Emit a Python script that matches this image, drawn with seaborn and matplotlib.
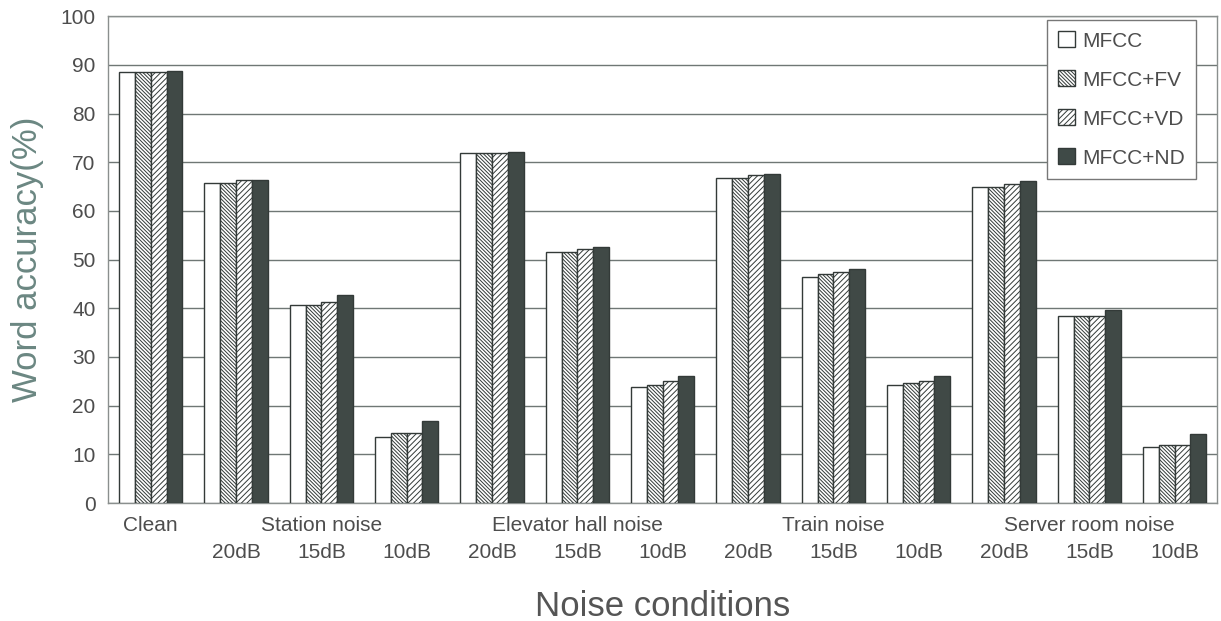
import pandas as pd
import seaborn as sns
import matplotlib.pyplot as plt
import matplotlib.transforms as mtransforms
from matplotlib.patches import Patch

# --- data ---
conditions = ["Clean",
              "Station 20dB", "Station 15dB", "Station 10dB",
              "Elevator 20dB", "Elevator 15dB", "Elevator 10dB",
              "Train 20dB", "Train 15dB", "Train 10dB",
              "Server 20dB", "Server 15dB", "Server 10dB"]
db_labels = ["", "20dB", "15dB", "10dB", "20dB", "15dB", "10dB",
             "20dB", "15dB", "10dB", "20dB", "15dB", "10dB"]
group_names = ["Clean", "Station noise", "Elevator hall noise",
               "Train noise", "Server room noise"]
group_pos = [0, 2, 5, 8, 11]
features = ["MFCC", "MFCC+FV", "MFCC+VD", "MFCC+ND"]

mfcc    = [88.6, 65.8, 40.7, 13.6, 71.9, 51.6, 23.8, 66.8, 46.5, 24.2, 65.0, 38.5, 11.6]
mfcc_fv = [88.6, 65.8, 40.7, 14.4, 71.9, 51.5, 24.2, 66.8, 47.0, 24.6, 65.0, 38.5, 12.0]
mfcc_vd = [88.6, 66.3, 41.3, 14.4, 71.9, 52.1, 25.1, 67.3, 47.4, 25.1, 65.5, 38.5, 12.0]
mfcc_nd = [88.8, 66.3, 42.8, 16.8, 72.0, 52.6, 26.1, 67.5, 48.0, 26.1, 66.1, 39.6, 14.1]

rows = []
for name, vals in zip(features, [mfcc, mfcc_fv, mfcc_vd, mfcc_nd]):
    for cond, v in zip(conditions, vals):
        rows.append({"condition": cond, "feature": name, "accuracy": v})
df = pd.DataFrame(rows)

sns.set_style("white")
plt.rcParams['font.family'] = ['Liberation Sans', 'DejaVu Sans']
plt.rcParams['hatch.linewidth'] = 0.7

text_col = "#4d4d4d"
edge_col = "#333a38"
fills = ["white", "white", "white", "#3f4a47"]
hatches = ["", "\\" * 9, "/" * 6, ""]

fig, ax = plt.subplots(figsize=(12.21, 6.21), dpi=100)
fig.subplots_adjust(left=0.0885, right=0.997, top=0.974, bottom=0.19)

sns.barplot(data=df, x="condition", y="accuracy", hue="feature",
            order=conditions, hue_order=features, width=0.74,
            palette=fills, edgecolor=edge_col, linewidth=1.0,
            legend=False, ax=ax, zorder=3)

for container, h in zip(ax.containers, hatches):
    for bar in container:
        bar.set_hatch(h)
        bar.set_edgecolor(edge_col)

ax.set_ylim(0, 100)
ax.set_xlim(-0.5, len(conditions) - 0.5)
ax.set_yticks(range(0, 101, 10))
ax.yaxis.grid(True, color="#6f7775", linewidth=1.0, zorder=0)
ax.set_axisbelow(True)
ax.set_xticks(range(len(conditions)))
ax.set_xticklabels(db_labels, fontsize=15, color=text_col)
ax.tick_params(axis="x", length=0, pad=29)
ax.tick_params(axis="y", length=0, pad=9, labelsize=15, labelcolor=text_col)
for s in ax.spines.values():
    s.set_color("#8a8f8e")
    s.set_linewidth(1.0)

# group names on the first row under the axis
trans = mtransforms.blended_transform_factory(ax.transData, ax.transAxes)
for name, pos in zip(group_names, group_pos):
    ax.text(pos, -0.026, name, transform=trans, ha="center", va="top",
            fontsize=15, color=text_col)

ax.set_ylabel("Word accuracy(%)", fontsize=25, color="#6b8782", labelpad=12)
ax.set_xlabel("Noise conditions", fontsize=25, color="#555555", labelpad=20)

handles = [Patch(facecolor=f, edgecolor=edge_col, hatch=h, label=n)
           for f, h, n in zip(fills, hatches, features)]
leg = ax.legend(handles=handles, loc="upper right", bbox_to_anchor=(0.981, 0.992),
                fontsize=15, handlelength=0.8, handleheight=0.8, handletextpad=0.35,
                labelspacing=0.95, borderpad=0.55, borderaxespad=0,
                fancybox=False, framealpha=1, edgecolor="#777777")
for t in leg.get_texts():
    t.set_color(text_col)

plt.savefig("out.png", dpi=100)
